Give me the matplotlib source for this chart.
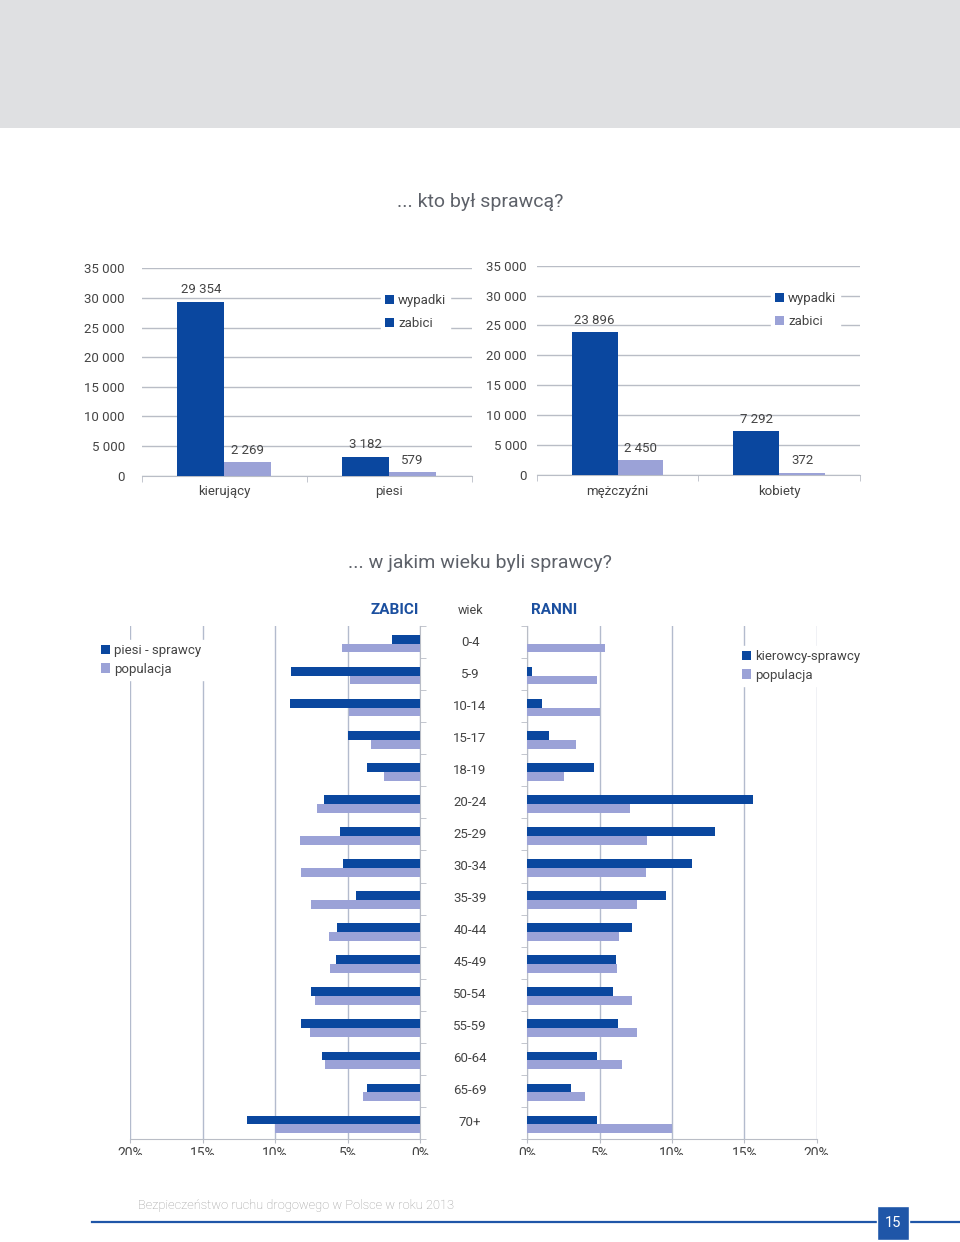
import matplotlib
matplotlib.use("Agg")
import matplotlib.pyplot as plt
from matplotlib.patches import Rectangle, Patch
from matplotlib.ticker import FuncFormatter, FixedLocator
import matplotlib.transforms as mtransforms

plt.rcParams['font.family'] = ['Roboto', 'DejaVu Sans']

# ---------------- data ----------------
top_left_categories = ["kierujący", "piesi"]
top_left_wypadki = [29354, 3182]
top_left_zabici = [2269, 579]

top_right_categories = ["mężczyźni", "kobiety"]
top_right_wypadki = [23896, 7292]
top_right_zabici = [2450, 372]

age_groups = ["0-4", "5-9", "10-14", "15-17", "18-19", "20-24", "25-29", "30-34",
              "35-39", "40-44", "45-49", "50-54", "55-59", "60-64", "65-69", "70+"]
zabici_piesi = [1.9, 8.9, 9.0, 5.0, 3.65, 6.6, 5.5, 5.3, 4.4, 5.75, 5.8, 7.5, 8.2, 6.75, 3.65, 11.9]
zabici_populacja = [5.35, 4.8, 4.9, 3.35, 2.5, 7.1, 8.3, 8.2, 7.5, 6.3, 6.2, 7.25, 7.6, 6.55, 3.95, 10.0]
ranni_kierowcy = [0.0, 0.3, 1.05, 1.5, 4.6, 15.6, 13.0, 11.35, 9.6, 7.25, 6.15, 5.9, 6.3, 4.85, 3.05, 4.85]
ranni_populacja = [5.4, 4.8, 5.0, 3.4, 2.55, 7.1, 8.3, 8.2, 7.55, 6.35, 6.2, 7.25, 7.6, 6.55, 4.0, 10.0]

pct_ticks = [0, 5, 10, 15, 20]
top_ticks = [0, 5000, 10000, 15000, 20000, 25000, 30000, 35000]

# ---------------- styles ----------------
W, H = 960, 1242
DARK = "#0a479f"
LIGHT = "#9ba2d7"
GRID = "#b9bdc6"
GRID2 = "#b3bbcd"
TXT = "#444444"
TITLE = "#5d6169"

fig = plt.figure(figsize=(W / 100, H / 100), dpi=100)
fig.patch.set_facecolor("white")


def px_rect(x0, y0, x1, y1):
    return [x0 / W, 1 - y1 / H, (x1 - x0) / W, (y1 - y0) / H]


def fx(x):
    return x / W


def fy(y):
    return 1 - y / H


# top gray band
fig.add_artist(Rectangle((0, fy(128)), 1, 128 / H, transform=fig.transFigure,
                         facecolor="#dfe0e2", edgecolor="none", zorder=0))

fig.text(0.5, fy(202), "... kto był sprawcą?", ha="center", va="center",
         fontsize=14, color=TITLE)
fig.text(0.5, fy(563), "... w jakim wieku byli sprawcy?", ha="center", va="center",
         fontsize=14, color=TITLE)


def thousands(v, pos=None):
    return f"{int(v):,}".replace(",", " ")


def top_chart(rect, cats, wyp, zab, ypad, legend_anchor, zabici_legend_color):
    ax = fig.add_axes(rect)
    n = len(cats)
    xs = list(range(n))
    w = 0.284
    b1 = ax.bar([x - w / 2 for x in xs], wyp, width=w, color=DARK, zorder=3)
    b2 = ax.bar([x + w / 2 for x in xs], zab, width=w, color=LIGHT, zorder=3)
    ax.bar_label(b1, labels=[thousands(v) for v in wyp], padding=4, fontsize=9.5, color=TXT)
    ax.bar_label(b2, labels=[thousands(v) for v in zab], padding=4, fontsize=9.5, color=TXT)
    ax.set_xlim(-0.5, n - 0.5)
    ax.set_ylim(0, 35000)
    ax.yaxis.set_major_locator(FixedLocator(top_ticks))
    ax.yaxis.set_major_formatter(FuncFormatter(thousands))
    ax.yaxis.grid(True, color=GRID, linewidth=1)
    ax.set_axisbelow(True)
    ax.set_xticks(xs)
    ax.set_xticklabels(cats)
    ax.set_xticks([i - 0.5 for i in range(n + 1)], minor=True)
    ax.tick_params(axis="x", which="major", length=0, pad=7, labelsize=9.5, labelcolor=TXT)
    ax.tick_params(axis="x", which="minor", length=4, color=GRID, direction="out")
    ax.tick_params(axis="y", length=0, pad=ypad, labelsize=9.5, labelcolor=TXT)
    for s in ["top", "left", "right"]:
        ax.spines[s].set_visible(False)
    ax.spines["bottom"].set_color(GRID)
    handles = [Patch(facecolor=DARK, edgecolor="none"),
               Patch(facecolor=zabici_legend_color, edgecolor="none")]
    leg = fig.legend(handles, ["wypadki", "zabici"], loc="center left",
                     bbox_to_anchor=legend_anchor, bbox_transform=fig.transFigure,
                     frameon=True, fancybox=False, framealpha=1, edgecolor="white",
                     fontsize=9.5, handlelength=0.7, handleheight=0.7,
                     handletextpad=0.3, labelspacing=0.75, borderpad=0.3,
                     borderaxespad=0)
    for t in leg.get_texts():
        t.set_color(TXT)
    return ax


top_chart(px_rect(141.7, 268.3, 471.7, 475.7), top_left_categories, top_left_wypadki,
          top_left_zabici, 12, (fx(381), fy(312)), DARK)
top_chart(px_rect(536.7, 265.7, 860, 475), top_right_categories, top_right_wypadki,
          top_right_zabici, 7, (fx(771), fy(310)), LIGHT)

# ---------------- age charts ----------------
ny = len(age_groups)
ys = list(range(ny))
bh = 0.275
d_off = -0.09
p_off = 0.185


def age_chart(rect, dark_vals, pop_vals, left_side):
    ax = fig.add_axes(rect)
    ax.barh([y + d_off for y in ys], dark_vals, height=bh, color=DARK, zorder=3)
    ax.barh([y + p_off for y in ys], pop_vals, height=bh, color=LIGHT, zorder=3)
    if left_side:
        ax.set_xlim(20, 0)
    else:
        ax.set_xlim(0, 20)
    ax.set_ylim(ny - 0.5, -0.5)
    ax.xaxis.set_major_locator(FixedLocator(pct_ticks))
    ax.xaxis.set_major_formatter(FuncFormatter(lambda v, p: f"{int(v)}%"))
    ax.xaxis.grid(True, color=GRID2, linewidth=1)
    ax.set_axisbelow(True)
    ax.set_yticks([])
    ax.set_yticks([i - 0.5 for i in range(ny + 1)], minor=True)
    ax.tick_params(axis="y", which="minor", length=4, color=GRID, direction="out")
    ax.tick_params(axis="x", length=3, color=GRID, pad=3, labelsize=10, labelcolor=TXT)
    ax.spines["top"].set_visible(False)
    ax.spines["bottom"].set_color(GRID)
    if left_side:
        ax.spines["left"].set_visible(False)
        ax.spines["right"].set_color(GRID)
        ax.yaxis.set_ticks_position("right")
    else:
        ax.spines["right"].set_visible(False)
        ax.spines["left"].set_color(GRID)
        ax.yaxis.set_ticks_position("left")
    return ax


axL = age_chart(px_rect(130, 626, 420, 1139), zabici_piesi, zabici_populacja, True)
axR = age_chart(px_rect(527.3, 626, 816.7, 1139), ranni_kierowcy, ranni_populacja, False)

trans = mtransforms.blended_transform_factory(fig.transFigure, axL.transData)
for i, g in enumerate(age_groups):
    axL.text(fx(470), i, g, transform=trans, ha="center", va="center",
             fontsize=9.5, color=TXT, clip_on=False)

fig.text(fx(395), fy(610), "ZABICI", ha="center", va="center", fontsize=11,
         fontweight="bold", color="#1b4f9f")
fig.text(fx(531), fy(610), "RANNI", ha="left", va="center", fontsize=11,
         fontweight="bold", color="#1b4f9f")
fig.text(fx(471), fy(611), "wiek", ha="center", va="center", fontsize=9, color=TXT)

for handles_labels, anchor in [
    ((["piesi - sprawcy", "populacja"]), (fx(97), fy(660))),
    ((["kierowcy-sprawcy", "populacja"]), (fx(738), fy(666))),
]:
    handles = [Patch(facecolor=DARK, edgecolor="none"), Patch(facecolor=LIGHT, edgecolor="none")]
    leg = fig.legend(handles, handles_labels, loc="center left",
                     bbox_to_anchor=anchor, bbox_transform=fig.transFigure,
                     frameon=True, fancybox=False, framealpha=1, edgecolor="white",
                     fontsize=9.5, handlelength=0.7, handleheight=0.7,
                     handletextpad=0.3, labelspacing=0.4, borderpad=0.3,
                     borderaxespad=0)
    for t in leg.get_texts():
        t.set_color(TXT)

# white mask clipping the bottom tick labels (as in the reference)
fig.add_artist(Rectangle((0, fy(1195)), 1, (1195 - 1155) / H, transform=fig.transFigure,
                         facecolor="white", edgecolor="none", zorder=20))

# ---------------- footer ----------------
fig.add_artist(plt.Line2D([fx(92), 1.0], [fy(1222), fy(1222)], transform=fig.transFigure,
                          color="#1f56a8", linewidth=1.6, zorder=21))
fig.add_artist(Rectangle((fx(877), fy(1240)), 32 / W, 34 / H, transform=fig.transFigure,
                         facecolor="#1f56a8", edgecolor="white", linewidth=1, zorder=22))
fig.text(fx(893), fy(1223), "15", ha="center", va="center", fontsize=10.5,
         color="white", zorder=23)
fig.text(fx(138), fy(1206), "Bezpieczeństwo ruchu drogowego w Polsce w roku 2013",
         ha="left", va="center", fontsize=9.3, color="#9a9a9a", fontweight="light", zorder=23)

fig.savefig("out.png", dpi=100, facecolor="white")
